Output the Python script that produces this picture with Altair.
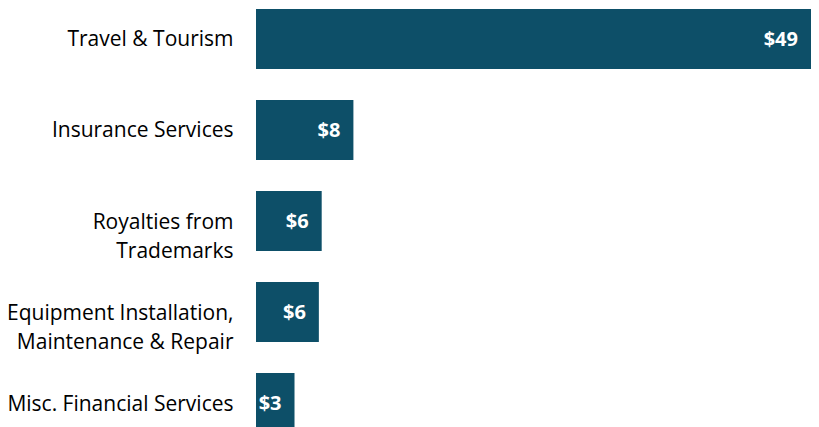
import altair as alt
import pandas as pd

categories = ["Travel & Tourism", "Insurance Services", "Royalties from|Trademarks",
              "Equipment Installation,|Maintenance & Repair", "Misc. Financial Services"]
values = [49, 8.6, 5.8, 5.55, 3.4]
labels = ["$49", "$8", "$6", "$6", "$3"]

df = pd.DataFrame({"cat": categories, "val": values, "lab": labels})

FONT = "Open Sans"
BAR = "#0d4f68"

base = alt.Chart(df).encode(
    y=alt.Y("cat:N", sort=categories,
            scale=alt.Scale(paddingInner=0.3407, paddingOuter=0.011),
            axis=alt.Axis(title=None, domain=False, ticks=False, grid=False,
                          labelExpr="split(datum.label, '|')",
                          labelFont=FONT, labelFontSize=21, labelColor="#000000",
                          labelPadding=23, labelLineHeight=29, labelLimit=400,
                          labelOffset=1.5))
)

bars = base.mark_bar(color=BAR).encode(
    x=alt.X("val:Q", axis=None, scale=alt.Scale(domain=[0, 49], nice=False))
)

text = base.mark_text(align="right", baseline="middle", dx=-13, dy=1, color="white",
                      fontWeight="bold", fontSize=20, font=FONT).encode(
    x=alt.X("val:Q"), text="lab:N"
)

chart = (bars + text).properties(
    width=555, height=426,
    autosize=alt.AutoSizeParams(type="none"),
    padding={"left": 248, "top": 0, "right": 0, "bottom": 0},
).configure_view(stroke=None)

chart.save("out.html", embed_options={"renderer": "svg", "actions": False})
